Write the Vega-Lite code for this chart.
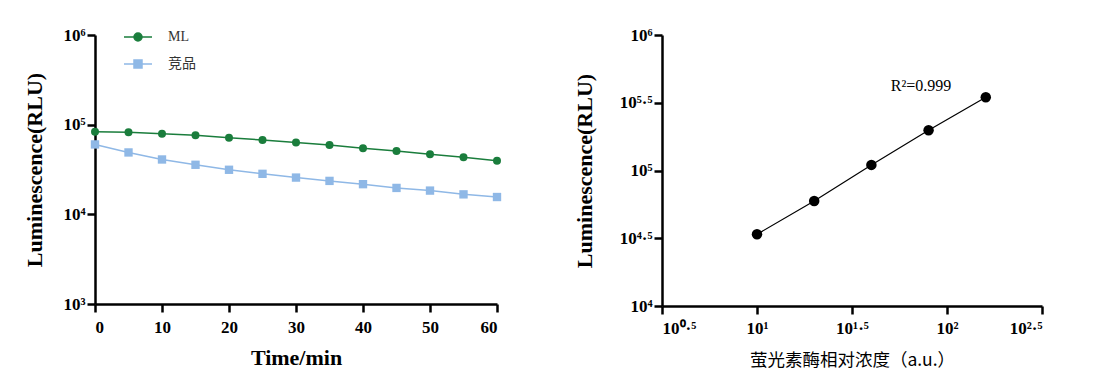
{
  "$schema": "https://vega.github.io/schema/vega-lite/v6.json",
  "background": "white",
  "padding": {"left": 23, "top": 26, "right": 5, "bottom": 5},
  "spacing": 71,
  "config": {
    "view": {"stroke": null},
    "axis": {
      "grid": false,
      "domainColor": "black", "domainWidth": 2.5,
      "tickColor": "black", "tickWidth": 2.5, "tickSize": 8,
      "labelFont": "Liberation Serif", "labelFontWeight": "bold", "labelFontSize": 17, "labelColor": "black",
      "titleFont": "Liberation Serif", "titleFontWeight": "bold", "titleFontSize": 22, "titleColor": "black"
    }
  },
  "datasets": {
    "time": [
      {"t": 0, "series": "ML", "rlu": 83500},
      {"t": 5, "series": "ML", "rlu": 82100},
      {"t": 10, "series": "ML", "rlu": 79400},
      {"t": 15, "series": "ML", "rlu": 76000},
      {"t": 20, "series": "ML", "rlu": 71600},
      {"t": 25, "series": "ML", "rlu": 67300},
      {"t": 30, "series": "ML", "rlu": 63400},
      {"t": 35, "series": "ML", "rlu": 59200},
      {"t": 40, "series": "ML", "rlu": 54700},
      {"t": 45, "series": "ML", "rlu": 50700},
      {"t": 50, "series": "ML", "rlu": 46900},
      {"t": 55, "series": "ML", "rlu": 43400},
      {"t": 60, "series": "ML", "rlu": 39600},
      {"t": 0, "series": "竞品", "rlu": 60200},
      {"t": 5, "series": "竞品", "rlu": 49000},
      {"t": 10, "series": "竞品", "rlu": 40900},
      {"t": 15, "series": "竞品", "rlu": 35700},
      {"t": 20, "series": "竞品", "rlu": 31400},
      {"t": 25, "series": "竞品", "rlu": 28300},
      {"t": 30, "series": "竞品", "rlu": 25700},
      {"t": 35, "series": "竞品", "rlu": 23600},
      {"t": 40, "series": "竞品", "rlu": 21700},
      {"t": 45, "series": "竞品", "rlu": 19700},
      {"t": 50, "series": "竞品", "rlu": 18400},
      {"t": 55, "series": "竞品", "rlu": 16700},
      {"t": 60, "series": "竞品", "rlu": 15600}
    ],
    "conc": [
      {"conc": 10, "rlu": 33800},
      {"conc": 20, "rlu": 59600},
      {"conc": 40, "rlu": 110000},
      {"conc": 80, "rlu": 198000},
      {"conc": 160, "rlu": 347000}
    ],
    "note": [
      {"conc": 73, "rlu": 421000, "label": "R²=0.999"}
    ]
  },
  "hconcat": [
    {
      "width": 402,
      "height": 269,
      "layer": [
        {
          "data": {"name": "time"},
          "mark": {"type": "line", "strokeWidth": 1.5},
          "encoding": {
            "x": {"field": "t", "type": "quantitative",
                  "scale": {"domain": [0, 60], "nice": false},
                  "axis": {"values": [0, 10, 20, 30, 40, 50, 60], "title": "Time/min", "labelPadding": 7, "titlePadding": 12}},
            "y": {"field": "rlu", "type": "quantitative",
                  "scale": {"type": "log", "domain": [1000, 1000000], "nice": false},
                  "axis": {"values": [1000, 10000, 100000, 1000000], "title": "Luminescence(RLU)", "labelPadding": 2, "titlePadding": 16,
                           "labelExpr": "datum.value < 5000 ? '10³' : datum.value < 50000 ? '10⁴' : datum.value < 500000 ? '10⁵' : '10⁶'"}},
            "color": {"field": "series", "type": "nominal",
                      "scale": {"domain": ["ML", "竞品"], "range": ["#1a7d3c", "#8fb8e6"]},
                      "legend": {
                        "orient": "none", "legendX": 36, "legendY": -5, "title": null,
                        "symbolSize": 100, "labelOffset": 23, "rowPadding": 13,
                        "labelFont": "Liberation Serif, Noto Sans CJK SC", "labelFontSize": 14, "labelColor": "#333333",
                        "symbolStrokeWidth": 1.5,
                        "encode": {"symbols": {"update": {
                          "shape": {"signal": "datum.value === 'ML' ? 'M-2.8,0H2.8M0.8,0A0.8,0.8 0 1,1 -0.8,0A0.8,0.8 0 1,1 0.8,0Z' : 'M-2.8,0H2.8M-0.8,-0.8H0.8V0.8H-0.8Z'"},
                          "fill": {"signal": "datum.value === 'ML' ? '#1a7d3c' : '#8fb8e6'"},
                          "stroke": {"signal": "datum.value === 'ML' ? '#1a7d3c' : '#8fb8e6'"},
                          "strokeWidth": {"value": 1.5}
                        }}}
                      }}
          }
        },
        {
          "data": {"name": "time"},
          "transform": [{"filter": "datum.series === 'ML'"}],
          "mark": {"type": "point", "shape": "circle", "filled": true, "opacity": 1, "size": 64},
          "encoding": {
            "x": {"field": "t", "type": "quantitative"},
            "y": {"field": "rlu", "type": "quantitative"},
            "color": {"field": "series", "type": "nominal", "legend": null}
          }
        },
        {
          "data": {"name": "time"},
          "transform": [{"filter": "datum.series === '竞品'"}],
          "mark": {"type": "point", "shape": "square", "filled": true, "opacity": 1, "size": 70},
          "encoding": {
            "x": {"field": "t", "type": "quantitative"},
            "y": {"field": "rlu", "type": "quantitative"},
            "color": {"field": "series", "type": "nominal", "legend": null}
          }
        }
      ]
    },
    {
      "width": 380,
      "height": 271,
      "layer": [
        {
          "data": {"name": "conc"},
          "mark": {"type": "line", "color": "black", "strokeWidth": 1.2},
          "encoding": {
            "x": {"field": "conc", "type": "quantitative",
                  "scale": {"type": "log", "domain": [3.16227766, 316.227766], "nice": false},
                  "axis": {"values": [3.16227766, 10, 31.6227766, 100, 316.227766],
                           "labelExpr": "datum.value < 5 ? '10⁰·⁵' : datum.value < 20 ? '10¹' : datum.value < 50 ? '10¹·⁵' : datum.value < 200 ? '10²' : '10²·⁵'",
                           "title": "萤光素酶相对浓度（a.u.）", "titleFont": "Noto Sans CJK SC", "titleFontWeight": "normal", "titleFontSize": 17.5,
                           "labelPadding": 6, "titlePadding": 15}},
            "y": {"field": "rlu", "type": "quantitative",
                  "scale": {"type": "log", "domain": [10000, 1000000], "nice": false},
                  "axis": {"values": [10000, 31622.7766, 100000, 316227.766, 1000000],
                           "labelExpr": "datum.value < 20000 ? '10⁴' : datum.value < 50000 ? '10⁴·⁵' : datum.value < 200000 ? '10⁵' : datum.value < 500000 ? '10⁵·⁵' : '10⁶'",
                           "title": "Luminescence(RLU)", "labelPadding": 2, "titlePadding": 23}}
          }
        },
        {
          "data": {"name": "conc"},
          "mark": {"type": "point", "filled": true, "opacity": 1, "color": "black", "size": 110},
          "encoding": {
            "x": {"field": "conc", "type": "quantitative"},
            "y": {"field": "rlu", "type": "quantitative"}
          }
        },
        {
          "data": {"name": "note"},
          "mark": {"type": "text", "font": "Liberation Serif", "fontSize": 16, "color": "black"},
          "encoding": {
            "x": {"field": "conc", "type": "quantitative"},
            "y": {"field": "rlu", "type": "quantitative"},
            "text": {"field": "label"}
          }
        }
      ]
    }
  ]
}
